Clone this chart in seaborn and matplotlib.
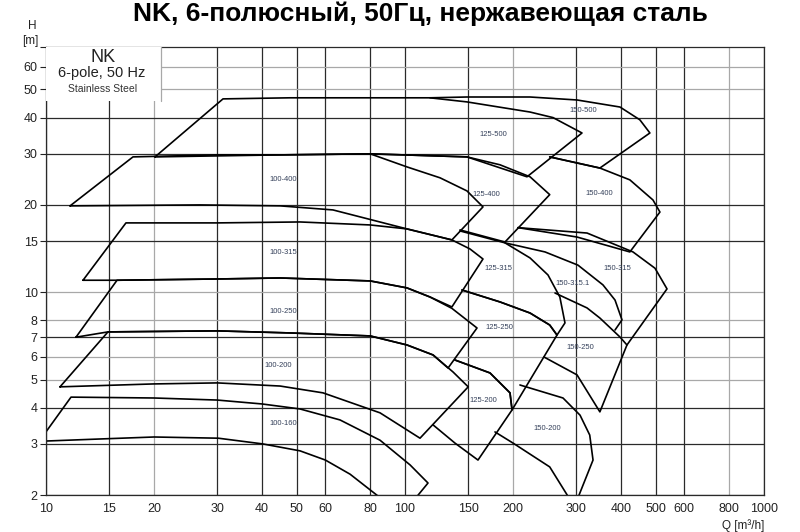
import pandas as pd
import seaborn as sns
import matplotlib.pyplot as plt
from matplotlib.patches import Rectangle

# pump outlines: Q [m3/h], H [m]
q_100_160 = [87, 70.3, 60, 51, 40.2, 30.2, 20, 14.1, 10, 9.8, 9.8, 11.74, 20, 30, 40, 51, 65.9, 85.2, 103.3, 115.9, 107]
h_100_160 = [1.92, 2.36, 2.64, 2.84, 3.0, 3.14, 3.17, 3.12, 3.07, 3.07, 3.19, 4.35, 4.32, 4.25, 4.12, 3.96, 3.63, 3.09, 2.54, 2.2, 1.95]

q_100_200 = [10.94, 14.88, 30, 47.8, 80, 101.3, 119.7, 136.1, 150, 110.1, 85.2, 59.1, 44.9, 30, 19.9, 10.94]
h_100_200 = [4.72, 7.30, 7.36, 7.24, 7.07, 6.58, 6.08, 5.31, 4.72, 3.14, 3.84, 4.50, 4.75, 4.87, 4.83, 4.72]

q_100_250 = [12.12, 15.77, 30, 44.9, 80, 101.3, 117.4, 135.1, 158.7, 131.8, 119.7, 101.3, 80, 47.8, 30, 14.88, 12.12]
h_100_250 = [7.0, 11.0, 11.11, 11.2, 10.94, 10.35, 9.63, 8.8, 7.53, 5.48, 6.08, 6.58, 7.07, 7.24, 7.36, 7.30, 7.0]

q_100_315 = [12.68, 16.70, 30, 51, 80, 101.3, 135.1, 151.7, 164.9, 135.1, 117.4, 101.3, 80, 44.9, 30, 15.77, 12.68]
h_100_315 = [11.0, 17.34, 17.34, 17.47, 17.06, 16.53, 15.15, 14.1, 13.02, 8.9, 9.63, 10.35, 10.94, 11.2, 11.11, 11.0, 11.0]

q_100_400 = [11.67, 17.47, 30, 44.9, 80, 101.3, 125.2, 148.8, 164.9, 135.1, 101.3, 63.0, 44.9, 26.85, 11.67]
h_100_400 = [19.85, 29.28, 29.75, 29.75, 30.0, 27.04, 24.8, 22.35, 19.69, 15.15, 16.53, 19.22, 19.85, 20.0, 19.85]

q_125_200 = [137.8, 172.5, 196.1, 198.7, 159.7, 137.8, 119.7]
h_125_200 = [5.84, 5.27, 4.50, 3.93, 2.64, 3.02, 3.49]

q_125_250 = [144.1, 183.9, 223, 253, 265.1, 198.7, 196.1, 172.5, 137.8]
h_125_250 = [10.18, 9.26, 8.48, 7.71, 7.12, 3.93, 4.50, 5.27, 5.84]

q_125_315 = [142.3, 189.9, 223, 250.2, 270, 279, 265.1, 253, 223, 183.9, 144.1]
h_125_315 = [16.27, 14.8, 13.13, 11.47, 9.63, 7.84, 7.12, 7.71, 8.48, 9.26, 10.18]

q_125_400 = [80, 148.8, 183.9, 223, 253, 189.9, 142.3]
h_125_400 = [30.0, 29.28, 27.5, 25.0, 21.7, 14.9, 16.4]

q_125_500 = [20.12, 31.12, 47.8, 117.4, 148.8, 223, 258.4, 311.2, 218.7, 148.8, 80, 44.9, 20.12]
h_125_500 = [29.28, 46.4, 46.8, 46.8, 45.3, 41.8, 40.0, 35.4, 25.0, 29.28, 30.0, 29.75, 29.28]

q_150_200 = [209, 275.5, 307.3, 327, 334, 301.4, 286.3, 283, 253, 200, 178.1]
h_150_200 = [4.79, 4.32, 3.77, 3.22, 2.64, 1.92, 1.92, 2.0, 2.50, 3.02, 3.30]

q_150_250 = [415.2, 349, 301.4, 243.9]
h_150_250 = [6.58, 3.87, 5.19, 5.98]

q_150_315_1 = [189.9, 245.5, 303.3, 356, 384.6, 402.2, 384.6]
h_150_315_1 = [14.8, 13.77, 12.4, 10.6, 9.4, 8.03, 7.41]

q_150_315 = [206.4, 321.4, 431.6, 497, 536.8, 415.2, 397, 349, 321.4, 261.7]
h_150_315 = [16.7, 16.0, 13.77, 12.1, 10.27, 6.58, 7.01, 8.15, 8.83, 9.94]

q_150_400 = [253, 349, 423, 490.6, 513, 423, 301.4, 206.4]
h_150_400 = [29.28, 26.8, 24.4, 20.8, 18.9, 13.77, 15.5, 16.7]

q_150_500 = [117.4, 148.8, 223, 301.4, 397, 451, 481, 349, 253]
h_150_500 = [46.8, 47.1, 47.1, 46.0, 43.5, 39.3, 35.4, 26.8, 29.28]

# pump type labels
label_names = ['100-160', '100-200', '100-250', '100-315', '100-400',
               '125-200', '125-250', '125-315', '125-400', '125-500',
               '150-200', '150-250', '150-315.1', '150-315', '150-400', '150-500']
label_q = [45.7, 44.3, 45.7, 45.7, 45.7, 164.9, 182.7, 182.7, 168.1, 175.8,
           248.6, 307.3, 293.8, 389.5, 347, 313.2]
label_h = [3.54, 5.57, 8.55, 13.7, 24.4, 4.22, 7.53, 12.1, 21.8, 34.9,
           3.38, 6.43, 10.68, 12.1, 21.9, 42.2]

x_ticks = [10, 15, 20, 30, 40, 50, 60, 80, 100, 150, 200, 300, 400, 500, 600, 800, 1000]
y_ticks = [2, 3, 4, 5, 6, 7, 8, 10, 15, 20, 30, 40, 50, 60, 70]
y_tick_labels = ['2', '3', '4', '5', '6', '7', '8', '10', '15', '20', '30', '40', '50', '60', '']
x_light = [20, 200, 800]
y_light = [5, 6, 8, 10, 50, 60]

outlines = [(q_100_160, h_100_160), (q_100_200, h_100_200), (q_100_250, h_100_250),
            (q_100_315, h_100_315), (q_100_400, h_100_400), (q_125_200, h_125_200),
            (q_125_250, h_125_250), (q_125_315, h_125_315), (q_125_400, h_125_400),
            (q_125_500, h_125_500), (q_150_200, h_150_200), (q_150_250, h_150_250),
            (q_150_315_1, h_150_315_1), (q_150_315, h_150_315), (q_150_400, h_150_400),
            (q_150_500, h_150_500)]

sns.set_theme(style='white')
plt.rcParams['font.family'] = ['Liberation Sans', 'DejaVu Sans']

fig = plt.figure(figsize=(8, 5.32), dpi=100)
ax = fig.add_axes([0.0575, 0.0695, 0.8975, 0.842])
ax.set_xscale('log')
ax.set_yscale('log')

# grid
for x in x_ticks:
    ax.axvline(x, color='#a8a8a8' if x in x_light else '#2a2a2a', lw=0.9, zorder=1)
for y in y_ticks[:-1]:
    ax.axhline(y, color='#a8a8a8' if y in y_light else '#2a2a2a', lw=0.9, zorder=1)

for q, h in outlines:
    d = pd.DataFrame({'Q': q, 'H': h})
    sns.lineplot(data=d, x='Q', y='H', sort=False, estimator=None,
                 color='black', lw=1.2, ax=ax, zorder=2)

for name, q, h in zip(label_names, label_q, label_h):
    ax.text(q, h, name, fontsize=5.5, color='#34405a', ha='center', va='center', zorder=3)

ax.set_xlim(10, 1000)
ax.set_ylim(2, 70)
ax.set_xticks(x_ticks)
ax.set_xticklabels([str(v) for v in x_ticks])
ax.set_yticks(y_ticks)
ax.set_yticklabels(y_tick_labels)
ax.minorticks_off()
ax.tick_params(axis='x', length=0, pad=6, labelsize=9, colors='#222222')
ax.tick_params(axis='y', length=4, width=0.8, pad=2, labelsize=9, colors='#222222', left=True)
ax.set_xlabel('')
ax.set_ylabel('')
for s in ax.spines.values():
    s.set_color('#2a2a2a')
    s.set_linewidth(0.9)

# info box in the top left corner
ax.add_patch(Rectangle((0, 0.8795), 0.160, 0.1205, transform=ax.transAxes,
                       facecolor='white', edgecolor='none', zorder=4))
ax.plot([0.160, 0.160], [0.8795, 1.0], transform=ax.transAxes, color='#a8a8a8', lw=0.9, zorder=5)
ax.text(0.079, 0.977, 'NK', transform=ax.transAxes, fontsize=13, ha='center', va='center', color='#222222', zorder=6)
ax.text(0.078, 0.942, '6-pole, 50 Hz', transform=ax.transAxes, fontsize=10.5, ha='center', va='center', color='#222222', zorder=6)
ax.text(0.079, 0.9065, 'Stainless Steel', transform=ax.transAxes, fontsize=7.5, ha='center', va='center', color='#333333', zorder=6)

fig.text(0.526, 0.9737, 'NK, 6-полюсный, 50Гц, нержавеющая сталь', fontsize=19,
         fontweight='bold', ha='center', va='center', color='black')
fig.text(0.040, 0.951, 'H', fontsize=8.5, ha='center', va='center', color='#222222')
fig.text(0.0375, 0.923, '[m]', fontsize=8.5, ha='center', va='center', color='#222222')
fig.text(0.955, 0.012, 'Q [m³/h]', fontsize=8.5, ha='right', va='center', color='#222222')

fig.savefig('out.png', dpi=100)
